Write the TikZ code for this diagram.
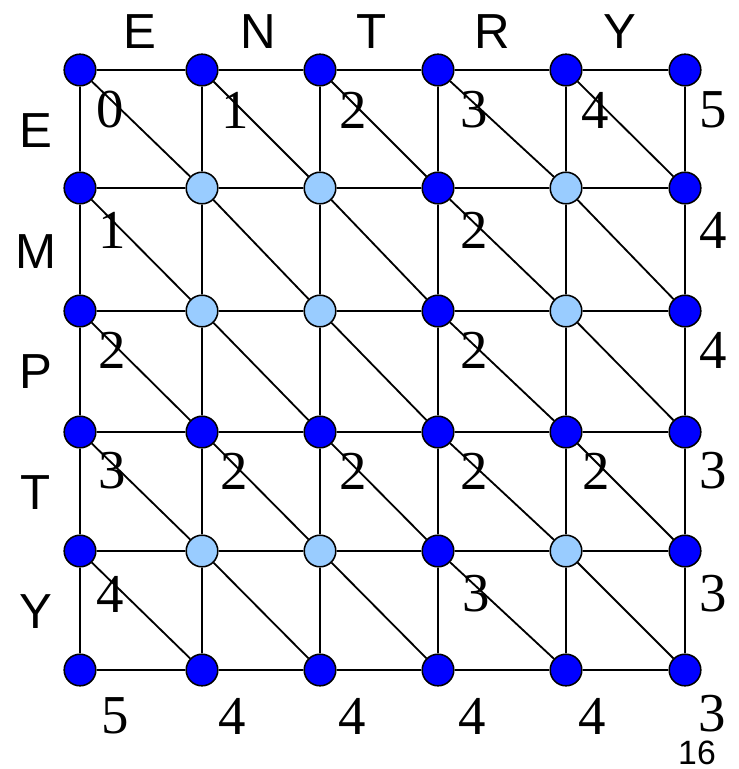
\documentclass[tikz,border=0pt]{standalone}
\usepackage{fontspec}
\setmainfont{Liberation Serif}
\newfontfamily\arialfont{Liberation Sans}
\usetikzlibrary{backgrounds}
\definecolor{paleblue}{RGB}{153,204,255}

\begin{document}
\begin{tikzpicture}[
    x=0.025cm,
    y=-0.025cm,
    vertex/.style={
        circle,
        draw,
        line width=1.1pt,
        minimum size=0.79cm,
        inner sep=0pt,
    },
    edge/.style={
        line width=1.3pt,
    },
    letter/.style={
        font=\arialfont\fontsize{35}{35}\selectfont,
    },
    cost/.style={
        font=\fontsize{39}{39}\selectfont,
        inner sep=0pt,
    },
]

    \useasboundingbox (0,0) rectangle (738,769);

    % grid points: columns and rows
    \def\colx{{80,202,320,438,566,685}}
    \def\rowy{{70,188,311,432,551,670}}
    \foreach \r in {0,...,5} {
        \foreach \c in {0,...,5} {
            \pgfmathsetmacro\px{\colx[\c]}
            \pgfmathsetmacro\py{\rowy[\r]}
            \pgfmathtruncatemacro\pale{and(or(\r==1,or(\r==2,\r==4)),or(\c==1,or(\c==2,\c==4)))}
            \ifnum\pale=1 \def\shade{paleblue}\else \def\shade{blue}\fi
            \node[vertex, fill=\shade] (n-\r-\c) at (\px,\py) {};
        }
    }

    % connectors behind the points
    \begin{scope}[on background layer]
        \foreach \r [evaluate=\r as \s using int(\r+1)] in {0,...,5} {
            \foreach \c [evaluate=\c as \d using int(\c+1)] in {0,...,4} {
                \draw[edge] (n-\r-\c) -- (n-\r-\d);
                \draw[edge] (n-\c-\r) -- (n-\d-\r);
            }
        }
        \foreach \r [evaluate=\r as \s using int(\r+1)] in {0,...,4} {
            \foreach \c [evaluate=\c as \d using int(\c+1)] in {0,...,4} {
                \draw[edge] (n-\r-\c) -- (n-\s-\d);
            }
        }
    \end{scope}

    % words along the top and the left side
    \foreach \name/\x/\t in {topE/140/E, topN/258/N, topT/372/T, topR/492/R, topY/620/Y}
        \node[letter] (\name) at (\x,32) {\t};
    \foreach \name/\y/\t in {sideE/131/E, sideM/252/M, sideP/372/P, sideT/493/T, sideY/612/Y}
        \node[letter] (\name) at (36,\y) {\t};

    % costs in the cells
    \foreach \name/\x/\y/\t in {
        c00/110/110/0, c01/235/110/1, c02/353/110/2, c03/474/110/3, c04/595/110/4, c05/713/110/5,
        c10/112/230/1, c13/474/230/2, c15/713/230/4,
        c20/112/350/2, c23/474/350/2, c25/713/350/4,
        c30/112/471/3, c31/234/471/2, c32/353/471/2, c33/474/471/2, c34/596/471/2, c35/713/471/3,
        c40/110/594/4, c43/476/594/3, c45/713/594/3,
        c50/115/716/5, c51/232/716/4, c52/352/716/4, c53/472/716/4, c54/592/716/4, c55/712/714/3}
        \node[cost] (\name) at (\x,\y) {\t};

    \node[font=\arialfont\fontsize{24}{24}\selectfont, inner sep=0pt] (page) at (697,753) {16};

\end{tikzpicture}
\end{document}
